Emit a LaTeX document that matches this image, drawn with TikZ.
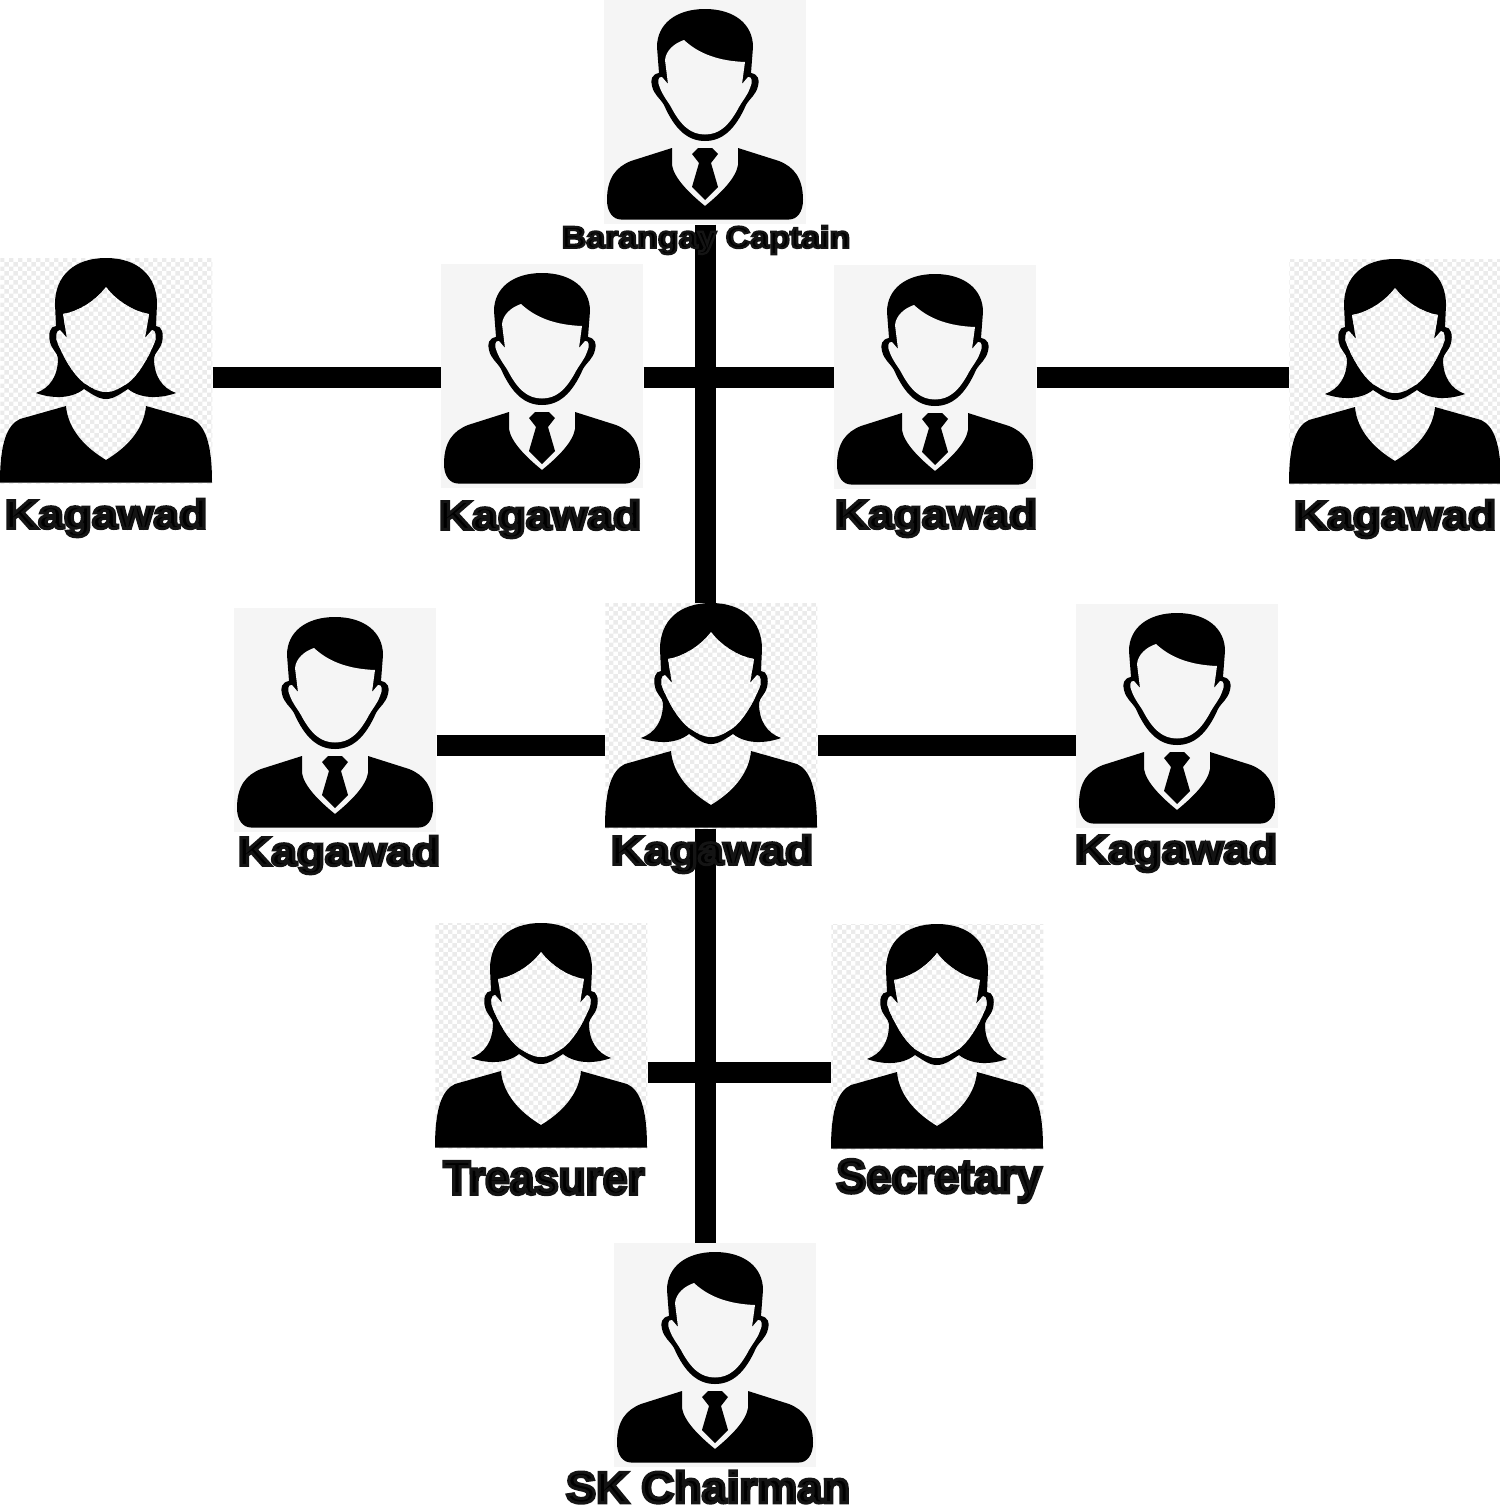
\documentclass[tikz,border=0pt]{standalone}
\usepackage{fontspec}
\usepackage{graphicx}
\usetikzlibrary{patterns}
\newfontfamily\lblfont[FakeBold=7]{Liberation Sans Bold}
\newcommand{\lbltext}[3]{\scalebox{#1}[1]{\fontsize{#2}{#2}\selectfont\lblfont\special{pdf:code 0.08 G}#3}}
\definecolor{boxgray}{HTML}{F5F5F5}
\pgfdeclarepatternformonly{finecheck}{\pgfpointorigin}{\pgfqpoint{5.1pt}{5.1pt}}{\pgfqpoint{5.1pt}{5.1pt}}{
  \pgfpathrectangle{\pgfpointorigin}{\pgfqpoint{2.55pt}{2.55pt}}
  \pgfpathrectangle{\pgfqpoint{2.55pt}{2.55pt}}{\pgfqpoint{2.55pt}{2.55pt}}
  \pgfusepath{fill}
}
\tikzset{
  x=0.02cm, y=-0.02cm,
  manbox/.style={rectangle, inner sep=0pt, anchor=north west, minimum width=4.04cm, minimum height=4.48cm, fill=boxgray},
  womanbox/.style={rectangle, inner sep=0pt, anchor=north west, minimum width=4.24cm, minimum height=4.5cm, pattern=finecheck, pattern color=black!8},
  bar/.style={line width=0.42cm},
  namelabel/.style={inner sep=0pt, anchor=center, text=black},
  manicon/.pic={
    % Hair and jaw
    \fill[black] (101,9) .. controls (72,9) and (53,24) .. (53,47) -- (55,73)
      .. controls (48,74) and (46,80) .. (48,86) .. controls (50,95) and (56,98) .. (60,105)
      .. controls (71,130) and (84,141) .. (101,141) .. controls (118,141) and (131,130) .. (142,105)
      .. controls (146,98) and (152,95) .. (154,86) .. controls (156,80) and (154,74) .. (147,73)
      -- (149,47) .. controls (149,24) and (130,9) .. (101,9) -- cycle;
    % Face
    \fill[boxgray] (61,60) .. controls (62,50) and (71,43) .. (80,40)
      .. controls (95,54) and (115,61) .. (141,62) -- (138,84) -- (144,77)
      .. controls (148,76) and (149,82) .. (146,88) .. controls (143,96) and (139,100) .. (135,107)
      .. controls (125,126) and (115,134.5) .. (101,134.5) .. controls (87,134.5) and (77,126) .. (67,107)
      .. controls (63,100) and (59,96) .. (56,88) .. controls (53,82) and (54,76) .. (58,77)
      -- (64,84) -- cycle;
    % Suit
    \fill[black] (68,148) -- (68,165) .. controls (70,178) and (85,193) .. (101,206)
      .. controls (117,193) and (132,178) .. (134,165) -- (134,148) -- (175,161)
      .. controls (190,167) and (199,178) .. (199,200) .. controls (199,212) and (193,219.5) .. (185,219.5)
      -- (17,219.5) .. controls (9,219.5) and (3,212) .. (3,200) .. controls (3,178) and (12,167) .. (27,161) -- cycle;
    % Tie
    \fill[black] (94,148) -- (108,148) -- (114,154) -- (107,163) -- (114,187) -- (101,200) -- (88,187) -- (95,163) -- (88,154) -- cycle;
  },
  womanicon/.pic={
    % Hair
    \fill[black] (106,0) .. controls (74,0) and (55,18) .. (55,46) -- (56,68)
      .. controls (50,68) and (48,76) .. (50,84) .. controls (52,92) and (57,94) .. (58,100)
      .. controls (58,118) and (50,130) .. (36,135) .. controls (50,140) and (70,142) .. (84,131)
      .. controls (92,136) and (98,141) .. (106,141) .. controls (114,141) and (120,136) .. (128,131)
      .. controls (142,142) and (162,140) .. (176,135) .. controls (162,130) and (154,118) .. (154,100)
      .. controls (155,94) and (160,92) .. (162,84) .. controls (164,76) and (162,68) .. (156,68)
      -- (157,46) .. controls (157,18) and (138,0) .. (106,0) -- cycle;
    % Face
    \path[preaction={fill=white}, pattern=finecheck, pattern color=black!8]
      (106,29) .. controls (96,42) and (80,53) .. (63,56) -- (67,80) -- (60,72)
      .. controls (56,72) and (55,80) .. (58,86) .. controls (66,104) and (74,117) .. (84,125)
      .. controls (92,130) and (98,134) .. (106,134) .. controls (114,134) and (120,130) .. (128,125)
      .. controls (138,117) and (146,104) .. (154,86) .. controls (157,80) and (156,72) .. (152,72)
      -- (145,80) -- (149,56) .. controls (132,53) and (116,42) .. (106,29) -- cycle;
    % Body
    \fill[black] (66,148) .. controls (68,172) and (86,190) .. (106,202)
      .. controls (126,190) and (144,172) .. (146,148) -- (192,161)
      .. controls (205,167) and (212,185) .. (212,224.5) -- (0,224.5)
      .. controls (0,185) and (7,167) .. (20,161) -- cycle;
  }
}
\begin{document}
\begin{tikzpicture}
  \useasboundingbox (0,0) rectangle (1500,1508);

  % Boxes
  \node[manbox] (captain) at (604,0) {};
  \node[womanbox] (kagawadA) at (0,258) {};
  \node[manbox] (kagawadB) at (441,264) {};
  \node[manbox] (kagawadC) at (834,265) {};
  \node[womanbox] (kagawadD) at (1289,259) {};
  \node[manbox] (kagawadE) at (234,608) {};
  \node[womanbox] (kagawadF) at (605,603) {};
  \node[manbox] (kagawadG) at (1076,604) {};
  \node[womanbox] (treasurer) at (435,923) {};
  \node[womanbox] (secretary) at (831,924) {};
  \node[manbox] (chairman) at (614,1243) {};

  % Row heights of the bars
  \coordinate (rowA) at (0,377);
  \coordinate (rowB) at (0,745);
  \coordinate (rowC) at (0,1072);

  % Bars
  \draw[bar] (captain.south) -- (captain.south |- kagawadF.north);
  \draw[bar] (captain |- kagawadF.south) -- (captain |- chairman.north);
  \draw[bar] (kagawadA.east |- rowA) -- (kagawadB.west |- rowA);
  \draw[bar] (kagawadB.east |- rowA) -- (kagawadC.west |- rowA);
  \draw[bar] (kagawadC.east |- rowA) -- (kagawadD.west |- rowA);
  \draw[bar] (kagawadE.east |- rowB) -- (kagawadF.west |- rowB);
  \draw[bar] (kagawadF.east |- rowB) -- (kagawadG.west |- rowB);
  \draw[bar] (treasurer.east |- rowC) -- (secretary.west |- rowC);

  % Figures
  \pic at (604,0) {manicon};
  \pic at (0,258) {womanicon};
  \pic at (441,264) {manicon};
  \pic at (834,265) {manicon};
  \pic at (1289,259) {womanicon};
  \pic at (234,608) {manicon};
  \pic at (605,603) {womanicon};
  \pic at (1076,604) {manicon};
  \pic at (435,923) {womanicon};
  \pic at (831,924) {womanicon};
  \pic at (614,1243) {manicon};

  % Labels
  \node[namelabel] (captainlbl) at (706,240) {\lbltext{1.11}{17.4}{Barangay Captain}};
  \node[namelabel] (kagawadAlbl) at (106,518) {\lbltext{1.14}{23}{Kagawad}};
  \node[namelabel] (kagawadBlbl) at (540,519) {\lbltext{1.14}{23}{Kagawad}};
  \node[namelabel] (kagawadClbl) at (936,518) {\lbltext{1.14}{23}{Kagawad}};
  \node[namelabel] (kagawadDlbl) at (1395,519) {\lbltext{1.14}{23}{Kagawad}};
  \node[namelabel] (kagawadElbl) at (339,855) {\lbltext{1.14}{23}{Kagawad}};
  \node[namelabel] (kagawadFlbl) at (712,854) {\lbltext{1.14}{23}{Kagawad}};
  \node[namelabel] (kagawadGlbl) at (1176,853) {\lbltext{1.14}{23}{Kagawad}};
  \node[namelabel] (treasurerlbl) at (544,1178) {\lbltext{0.93}{27}{Treasurer}};
  \node[namelabel] (secretarylbl) at (939,1181) {\lbltext{0.95}{27}{Secretary}};
  \node[namelabel] (chairmanlbl) at (708,1487) {\lbltext{1.03}{25}{SK Chairman}};
\end{tikzpicture}
\end{document}
